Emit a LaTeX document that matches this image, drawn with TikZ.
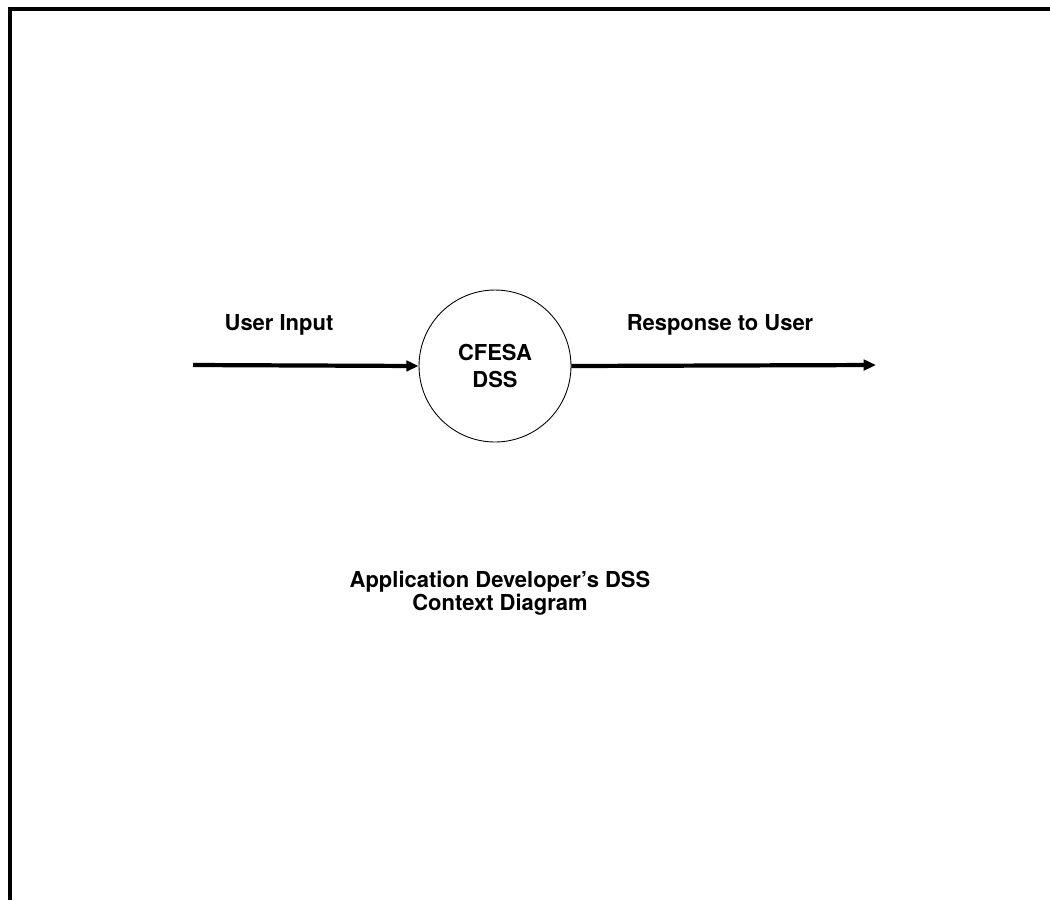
\documentclass[tikz,border=0pt]{standalone}
\usepackage{fontspec}
\setmainfont{TeX Gyre Heros}
\usetikzlibrary{arrows.meta}
\tikzset{
    flow/.style={line width=2.4pt,-{Triangle[length=7pt,width=6pt]}},
    lbl/.style={font=\bfseries\fontsize{12.5}{13}\selectfont,align=center},
    proc/.style={circle,draw,line width=0.5pt,minimum size=3.04cm,inner sep=0pt,
        font=\bfseries\fontsize{12.5}{15}\selectfont,align=center},
}
\begin{document}
\begin{tikzpicture}[x=0.02cm,y=-0.02cm]
\useasboundingbox (0,0) rectangle (1050,900);
\draw[line width=2.3pt] (10,900) -- (10,9) -- (1050,9);
\node[proc] (dss) at (495,366) {CFESA\\DSS};
\coordinate (src) at (193,365);
\coordinate (snk) at (876,365);
\draw[flow] (src) -- (dss.west);
\draw[flow] (dss.east) -- (snk);
\node[lbl] (inp) at (279,325) {User Input};
\node[lbl] (resp) at (720,325) {Response to User};
%\node[lbl] (note) at (500,560) {Level 0};
\node[lbl] (cap) at (500,593) {Application Developer's DSS\\Context Diagram};
\end{tikzpicture}
\end{document}
